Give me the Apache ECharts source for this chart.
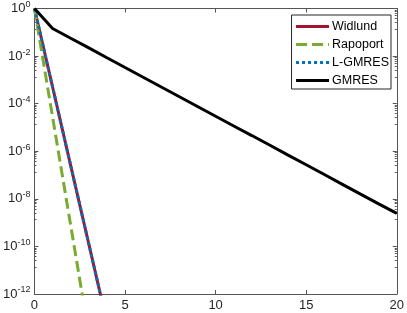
<!DOCTYPE html>
<html><head><meta charset="utf-8">
<script src="https://cdn.jsdelivr.net/npm/echarts@6/dist/echarts.min.js"></script>
<style>html,body{margin:0;padding:0;background:#fff}#c{width:407px;height:313px}</style>
</head><body><div id="c"></div>
<script>
var iterations = [0,1,2,3,4,5,6,7,8,9,10,11,12,13,14,15,16,17,18,19,20];
var widlund = [1, 5e-4, 2.5e-7, 1.26e-10, 6.3e-14];
var rapoport = [1, 2.75e-5, 7.6e-10, 2.1e-14];
var lgmres = [1, 5e-4, 2.5e-7, 1.26e-10, 6.3e-14];
var gmres = [1, 0.145, 0.056, 0.022, 0.0085, 0.0033, 1.29e-3, 5.0e-4, 1.95e-4, 7.6e-5, 2.95e-5, 1.15e-5, 4.57e-6, 1.78e-6, 6.9e-7, 2.7e-7, 1.05e-7, 4.07e-8, 1.58e-8, 6.17e-9, 2.45e-9];
var seriesNames = ['Widlund','Rapoport','L-GMRES','GMRES'];
var xTicks = [0,5,10,15,20];

function pairs(vals){ return vals.map(function(v,i){ return [iterations[i], v]; }); }
var axisColor = '#555';
var textColor = '#262626';
var font = 'Liberation Sans, Arial, Helvetica, sans-serif';

var chart = echarts.init(document.getElementById('c'));
chart.setOption({
  animation: false,
  backgroundColor: '#fff',
  grid: {left: 34, right: 8, top: 8, bottom: 19, containLabel: false},
  legend: {
    data: seriesNames,
    orient: 'vertical',
    right: 16, top: 15,
    itemWidth: 33, itemHeight: 12, itemGap: 5,
    padding: [5, 2, 2, 3],
    borderColor: '#262626', borderWidth: 1, borderRadius: 0,
    backgroundColor: '#fff',
    itemStyle: {opacity: 0},
    lineStyle: {width: 3},
    textStyle: {fontFamily: font, fontSize: 12.5, lineHeight: 12, color: '#000', padding: [0,0,0,-2]}
  },
  xAxis: [{
    type: 'value', min: 0, max: 20, interval: 5, position: 'bottom',
    axisLine: {onZero: false, lineStyle: {color: axisColor, width: 1}},
    axisTick: {inside: true, length: 4, lineStyle: {color: axisColor}},
    axisLabel: {fontFamily: font, fontSize: 13, color: textColor, margin: 5},
    splitLine: {show: false}
  }, {
    type: 'value', min: 0, max: 20, interval: 5, position: 'top',
    axisLine: {onZero: false, lineStyle: {color: axisColor, width: 1}},
    axisTick: {inside: true, length: 4, lineStyle: {color: axisColor}},
    axisLabel: {show: false}, splitLine: {show: false}
  }],
  yAxis: [{
    type: 'log', logBase: 10, min: 1e-12, max: 1, interval: 2, position: 'left',
    axisLine: {onZero: false, lineStyle: {color: axisColor, width: 1}},
    axisTick: {inside: true, length: 4, lineStyle: {color: axisColor}},
    minorTick: {show: true, splitNumber: 8, length: 2, lineStyle: {color: axisColor}},
    axisLabel: {
      fontFamily: font, color: textColor, margin: 4,
      formatter: function(v){ var e = Math.round(Math.log10(v)); return '{b|10}{s|' + e + '}'; },
      rich: {
        b: {fontFamily: font, fontSize: 13, color: textColor},
        s: {fontFamily: font, fontSize: 9, color: textColor, padding: [0,0,8,0]}
      }
    },
    splitLine: {show: false}
  }, {
    type: 'log', logBase: 10, min: 1e-12, max: 1, interval: 2, position: 'right',
    axisLine: {onZero: false, lineStyle: {color: axisColor, width: 1}},
    axisTick: {inside: true, length: 4, lineStyle: {color: axisColor}},
    minorTick: {show: true, splitNumber: 8, length: 2, lineStyle: {color: axisColor}},
    axisLabel: {show: false}, splitLine: {show: false}
  }],
  series: [
    {name: 'Widlund', type: 'line', data: pairs(widlund), symbol: 'none', clip: true,
     lineStyle: {color: '#A2142F', width: 3}, itemStyle: {color: '#A2142F'}},
    {name: 'Rapoport', type: 'line', data: pairs(rapoport), symbol: 'none', clip: true,
     lineStyle: {color: '#77AC30', width: 3, type: [11, 5]}, itemStyle: {color: '#77AC30'}},
    {name: 'L-GMRES', type: 'line', data: pairs(lgmres), symbol: 'none', clip: true,
     lineStyle: {color: '#0072BD', width: 3, type: [3, 3]}, itemStyle: {color: '#0072BD'}},
    {name: 'GMRES', type: 'line', data: pairs(gmres), symbol: 'none', clip: true,
     lineStyle: {color: '#000000', width: 3}, itemStyle: {color: '#000000'}}
  ]
});
</script></body></html>
